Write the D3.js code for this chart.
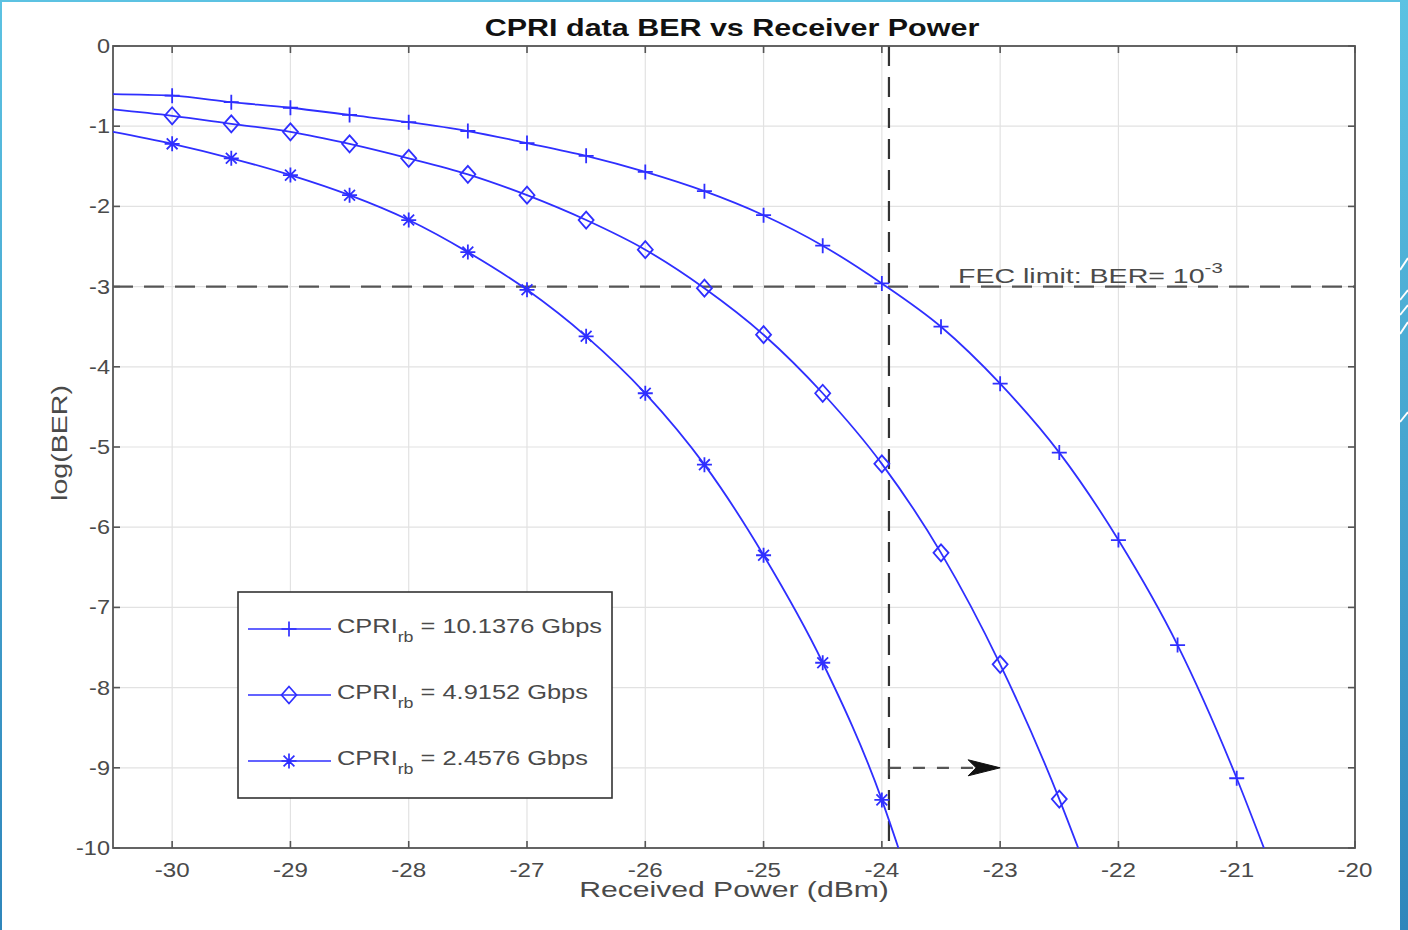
<!DOCTYPE html>
<html><head><meta charset="utf-8">
<script src="https://cdn.jsdelivr.net/npm/d3@7"></script>
<style>
body{margin:0;background:#fff;overflow:hidden}
svg{display:block}
text{font-family:"Liberation Sans",Arial,Helvetica,sans-serif}
</style></head><body>
<script>
// ---------- data ----------
const chartTitle = "CPRI data BER vs Receiver Power";
const xLabel = "Received Power (dBm)";
const yLabel = "log(BER)";
const xTicks = [-30, -29, -28, -27, -26, -25, -24, -23, -22, -21, -20];
const yTicks = [0, -1, -2, -3, -4, -5, -6, -7, -8, -9, -10];
const xDomain = [-30.5, -20];
const yDomain = [-10, 0];

// marker positions (dBm) and log(BER) values
const x1 = [-30, -29.5, -29, -28.5, -28, -27.5, -27, -26.5, -26, -25.5, -25, -24.5, -24, -23.5, -23, -22.5, -22, -21.5, -21];
const s1 = [-0.62, -0.70, -0.77, -0.86, -0.95, -1.06, -1.21, -1.37, -1.57, -1.81, -2.11, -2.49, -2.96, -3.50, -4.21, -5.07, -6.16, -7.47, -9.13];
const x2 = [-30, -29.5, -29, -28.5, -28, -27.5, -27, -26.5, -26, -25.5, -25, -24.5, -24, -23.5, -23, -22.5];
const s2 = [-0.87, -0.97, -1.07, -1.22, -1.40, -1.60, -1.86, -2.17, -2.54, -3.02, -3.60, -4.33, -5.21, -6.32, -7.71, -9.39];
const x3 = [-30, -29.5, -29, -28.5, -28, -27.5, -27, -26.5, -26, -25.5, -25, -24.5, -24];
const s3 = [-1.22, -1.40, -1.61, -1.86, -2.17, -2.57, -3.04, -3.62, -4.33, -5.22, -6.35, -7.69, -9.40];
// where each curve enters (left edge) and leaves (bottom edge) the plot
const lineStarts = [[-30.5, -0.60], [-30.5, -0.79], [-30.5, -1.07]];
const lineEnds = [[-20.77, -10], [-22.34, -10], [-23.86, -10]];
const legendRates = ["= 10.1376 Gbps", "= 4.9152 Gbps", "= 2.4576 Gbps"];
const markerTypes = ["plus", "diamond", "asterisk"];

const fecLevel = -3;
const fecLabel = "FEC limit: BER= 10";
const fecExp = "-3";
const sensX = -23.94;
const arrowFrom = [-23.94, -9.0];
const arrowTo = [-23.0, -9.0];

// ---------- layout ----------
const W = 1408, H = 930;
const P = {left: 113, right: 1355, top: 46, bottom: 848};
const K = 1.25; // horizontal text stretch of the reference
const blue = "#2f2fff";

const svg = d3.select("body").append("svg").attr("width", W).attr("height", H);
const defs = svg.append("defs");
const gr = defs.append("linearGradient").attr("id", "band").attr("x1", 0).attr("y1", 0).attr("x2", 0).attr("y2", 1);
gr.append("stop").attr("offset", "0%").attr("stop-color", "#5cc2e2");
gr.append("stop").attr("offset", "100%").attr("stop-color", "#2f86bb");

// slide frame
svg.append("rect").attr("width", W).attr("height", H).attr("fill", "#fff");
svg.append("rect").attr("x", 0).attr("y", 0).attr("width", W).attr("height", 2).attr("fill", "#5cc2e2");
svg.append("rect").attr("x", 0).attr("y", 0).attr("width", 2).attr("height", H).attr("fill", "url(#band)");
svg.append("rect").attr("x", 1400).attr("y", 0).attr("width", 8).attr("height", H).attr("fill", "url(#band)");
[[258, 12], [290, 10], [305, 10], [322, 12], [412, 10]].forEach(([y, d]) => {
  svg.append("line").attr("x1", 1400).attr("y1", y + d).attr("x2", 1408).attr("y2", y)
    .attr("stroke", "#fff").attr("stroke-width", 2);
});

const x = d3.scaleLinear().domain(xDomain).range([P.left, P.right]);
const y = d3.scaleLinear().domain(yDomain).range([P.bottom, P.top]);

function stretchText(parent, tx, ty, str, opts) {
  const g = parent.append("g").attr("transform", `translate(${tx},${ty}) ${opts.rotate ? "rotate(" + opts.rotate + ")" : ""} scale(${opts.k || K},1)`);
  const t = g.append("text").attr("x", 0).attr("y", 0)
    .attr("font-size", opts.size).attr("fill", opts.fill || "#4a4a4a")
    .attr("text-anchor", opts.anchor || "start")
    .attr("font-weight", opts.weight || "normal");
  t.text(str);
  return t;
}

// grid
const grid = svg.append("g");
xTicks.forEach(v => grid.append("line").attr("x1", x(v)).attr("x2", x(v)).attr("y1", P.top).attr("y2", P.bottom)
  .attr("stroke", "#e2e2e2").attr("stroke-width", 1.2));
yTicks.forEach(v => grid.append("line").attr("y1", y(v)).attr("y2", y(v)).attr("x1", P.left).attr("x2", P.right)
  .attr("stroke", "#e2e2e2").attr("stroke-width", 1.2));

// FEC horizontal and sensitivity vertical dashed lines
svg.append("line").attr("x1", P.left).attr("x2", P.right).attr("y1", y(fecLevel)).attr("y2", y(fecLevel))
  .attr("stroke", "#555").attr("stroke-width", 2.2).attr("stroke-dasharray", "20,11");
svg.append("line").attr("x1", x(sensX)).attr("x2", x(sensX)).attr("y1", P.top).attr("y2", P.bottom)
  .attr("stroke", "#333").attr("stroke-width", 2.2).attr("stroke-dasharray", "20,11");

// arrow
const ax0 = x(arrowFrom[0]), ay = y(arrowFrom[1]), ax1 = x(arrowTo[0]);
svg.append("line").attr("x1", ax0).attr("x2", ax1 - 24).attr("y1", ay).attr("y2", ay)
  .attr("stroke", "#555").attr("stroke-width", 2.2).attr("stroke-dasharray", "12,12");
svg.append("line").attr("x1", ax0).attr("x2", ax0).attr("y1", ay - 7).attr("y2", ay + 7)
  .attr("stroke", "#444").attr("stroke-width", 2);
svg.append("path").attr("d", `M${ax1},${ay} L${ax1 - 32},${ay - 8} L${ax1 - 24},${ay} L${ax1 - 32},${ay + 8} Z`)
  .attr("fill", "#111").attr("stroke", "#111").attr("stroke-width", 1);

// FEC label
{
  const g = svg.append("g").attr("transform", `translate(958,283) scale(1.36,1)`);
  const t = g.append("text").attr("font-size", 21).attr("fill", "#4a4a4a");
  t.append("tspan").text(fecLabel);
  t.append("tspan").attr("font-size", 15).attr("dy", -10).text(fecExp);
}

// axes box + ticks (inside)
const axes = svg.append("g");
axes.append("rect").attr("x", P.left).attr("y", P.top).attr("width", P.right - P.left).attr("height", P.bottom - P.top)
  .attr("fill", "none").attr("stroke", "#555").attr("stroke-width", 1.8);
xTicks.forEach(v => {
  axes.append("line").attr("x1", x(v)).attr("x2", x(v)).attr("y1", P.bottom).attr("y2", P.bottom - 7).attr("stroke", "#555").attr("stroke-width", 1.6);
  axes.append("line").attr("x1", x(v)).attr("x2", x(v)).attr("y1", P.top).attr("y2", P.top + 7).attr("stroke", "#555").attr("stroke-width", 1.6);
  stretchText(svg, x(v), 877, String(v), {size: 21, anchor: "middle", k: 1.15});
});
yTicks.forEach(v => {
  axes.append("line").attr("y1", y(v)).attr("y2", y(v)).attr("x1", P.left).attr("x2", P.left + 7).attr("stroke", "#555").attr("stroke-width", 1.6);
  axes.append("line").attr("y1", y(v)).attr("y2", y(v)).attr("x1", P.right).attr("x2", P.right - 7).attr("stroke", "#555").attr("stroke-width", 1.6);
  stretchText(svg, 110, y(v) + 7, String(v), {size: 21, anchor: "end", k: 1.12});
});

// series
const series = [
  {xs: x1, ys: s1}, {xs: x2, ys: s2}, {xs: x3, ys: s3}
];
const line = d3.line().x(d => x(d[0])).y(d => y(d[1])).curve(d3.curveMonotoneX);
const clip = defs.append("clipPath").attr("id", "clip");
clip.append("rect").attr("x", P.left).attr("y", P.top).attr("width", P.right - P.left).attr("height", P.bottom - P.top);

function marker(g, type, cx, cy) {
  const s = 7.5;
  if (type === "plus") {
    g.append("path").attr("d", `M${cx - s},${cy}H${cx + s}M${cx},${cy - s}V${cy + s}`);
  } else if (type === "diamond") {
    g.append("path").attr("d", `M${cx},${cy - 8.5}L${cx + 7.5},${cy}L${cx},${cy + 8.5}L${cx - 7.5},${cy}Z`).attr("fill", "none");
  } else {
    const d = s * 0.72;
    g.append("path").attr("d", `M${cx - s},${cy}H${cx + s}M${cx},${cy - s}V${cy + s}M${cx - d},${cy - d}L${cx + d},${cy + d}M${cx - d},${cy + d}L${cx + d},${cy - d}`);
  }
}

series.forEach((s, i) => {
  const pts = [lineStarts[i]].concat(s.xs.map((v, j) => [v, s.ys[j]]), [lineEnds[i]]);
  svg.append("path").attr("d", line(pts)).attr("fill", "none").attr("stroke", blue).attr("stroke-width", 1.8)
    .attr("clip-path", "url(#clip)");
  const mg = svg.append("g").attr("stroke", blue).attr("stroke-width", 1.8).attr("fill", "none");
  s.xs.forEach((v, j) => marker(mg, markerTypes[i], x(v), y(s.ys[j])));
});

// legend
const L = {x: 238, y: 592, w: 374, h: 206};
svg.append("rect").attr("x", L.x).attr("y", L.y).attr("width", L.w).attr("height", L.h)
  .attr("fill", "#fff").attr("stroke", "#333").attr("stroke-width", 1.6);
const rowsY = [629, 695, 761];
legendRates.forEach((r, i) => {
  const ly = rowsY[i];
  svg.append("line").attr("x1", 248).attr("x2", 331).attr("y1", ly).attr("y2", ly).attr("stroke", blue).attr("stroke-width", 1.7);
  const mg = svg.append("g").attr("stroke", blue).attr("stroke-width", 1.7).attr("fill", "none");
  marker(mg, markerTypes[i], 289, ly);
  const g = svg.append("g").attr("transform", `translate(337,${ly + 4}) scale(1.27,1)`);
  const t = g.append("text").attr("font-size", 20).attr("fill", "#4a4a4a");
  t.append("tspan").text("CPRI");
  t.append("tspan").attr("font-size", 14).attr("dy", 9).text("rb");
  t.append("tspan").attr("dy", -9).text(" " + r);
});

// title and axis labels
stretchText(svg, 732, 36, chartTitle, {size: 24, anchor: "middle", weight: "bold", fill: "#111", k: 1.27});
stretchText(svg, 734, 897, xLabel, {size: 22, anchor: "middle", k: 1.37});
stretchText(svg, 67, 443, yLabel, {size: 22, anchor: "middle", rotate: -90, k: 1.3});
</script>
</body></html>
